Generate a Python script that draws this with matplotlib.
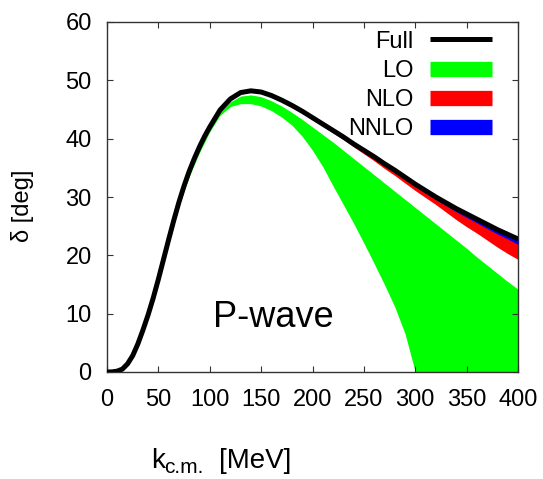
import numpy as np
import matplotlib
matplotlib.use('Agg')
import matplotlib.pyplot as plt
from matplotlib.lines import Line2D

plt.rcParams['font.family'] = ['Liberation Sans Narrow', 'Liberation Sans', 'DejaVu Sans']

# k_cm [MeV]
k = [0, 5, 10, 15, 20, 25, 30, 35, 40, 45, 50, 55, 60, 65, 70, 75, 80, 85, 90, 95, 100,
     110, 120, 130, 140, 150, 160, 170, 180, 190, 200, 210, 220, 230, 240, 250,
     260, 270, 280, 290, 300, 310, 320, 330, 340, 350, 360, 370, 380, 390, 400]

# phase shift [deg]
full = [0.0, 0.02, 0.15, 0.5, 1.4, 2.8, 4.8, 7.2, 9.8, 12.7, 15.9, 19.3, 22.7, 26.0, 29.1, 31.9, 34.4, 36.6, 38.6, 40.4, 42.0,
        44.9, 46.8, 47.9, 48.2, 48.0, 47.4, 46.6, 45.7, 44.7, 43.6, 42.5, 41.4, 40.3, 39.1, 38.0,
        36.9, 35.7, 34.6, 33.4, 32.2, 31.1, 30.0, 29.0, 28.0, 27.1, 26.2, 25.3, 24.4, 23.6, 22.8]

lo_hi = [0.0, 0.02, 0.15, 0.5, 1.4, 2.8, 4.8, 7.2, 9.8, 12.7, 15.9, 19.3, 22.7, 26.0, 29.1, 31.9, 34.4, 36.6, 38.6, 40.3, 41.8,
         44.5, 46.3, 47.3, 47.5, 47.2, 46.5, 45.6, 44.5, 43.3, 42.0, 40.7, 39.4, 38.0, 36.6, 35.2,
         33.8, 32.4, 31.0, 29.6, 28.2, 26.8, 25.4, 24.0, 22.6, 21.2, 19.7, 18.3, 16.9, 15.5, 14.2]

lo_lo = [0.0, 0.02, 0.15, 0.45, 1.3, 2.6, 4.6, 6.9, 9.5, 12.3, 15.5, 18.8, 22.2, 25.4, 28.4, 31.1, 33.5, 35.6, 37.6, 39.4, 41.2,
         44.0, 45.5, 46.0, 46.0, 45.6, 44.8, 43.7, 42.3, 40.4, 38.0, 35.2, 31.9, 28.7, 25.5, 22.1,
         18.6, 15.0, 11.2, 6.6, 0.0, 0.0, 0.0, 0.0, 0.0, 0.0, 0.0, 0.0, 0.0, 0.0, 0.0]

nlo_lo = [0.0, 0.02, 0.15, 0.5, 1.4, 2.8, 4.8, 7.2, 9.8, 12.7, 15.9, 19.3, 22.7, 26.0, 29.1, 31.9, 34.4, 36.6, 38.6, 40.4, 42.0,
          44.85, 46.7, 47.8, 48.1, 47.9, 47.25, 46.4, 45.5, 44.45, 43.3, 42.15, 41.0, 39.85, 38.6, 37.4,
          36.2, 34.9, 33.7, 32.4, 31.1, 29.9, 28.7, 27.4, 26.1, 24.9, 23.8, 22.6, 21.4, 20.3, 19.3]

nnlo_lo = [0.0, 0.02, 0.15, 0.5, 1.4, 2.8, 4.8, 7.2, 9.8, 12.7, 15.9, 19.3, 22.7, 26.0, 29.1, 31.9, 34.4, 36.6, 38.6, 40.4, 42.0,
           44.9, 46.8, 47.9, 48.2, 48.0, 47.4, 46.6, 45.7, 44.7, 43.55, 42.45, 41.35, 40.25, 39.05, 37.9,
           36.8, 35.55, 34.4, 33.2, 31.85, 30.7, 29.55, 28.5, 27.45, 26.5, 25.55, 24.6, 23.65, 22.8, 21.9]

fig = plt.figure(figsize=(5.43, 4.79), dpi=100)
ax = fig.add_axes([107/543, 1-372/479, 411/543, 350/479])

ax.fill_between(k, lo_lo, lo_hi, color='#00ff00', lw=0, zorder=1)
ax.fill_between(k, nlo_lo, full, color='#ff0000', lw=0, zorder=2)
ax.fill_between(k, nnlo_lo, full, color='#0000ff', lw=0, zorder=3)
ax.plot(k, full, color='black', lw=3.6, zorder=4, solid_capstyle='butt')

ax.set_xlim(0, 400)
ax.set_ylim(0, 60)
ax.set_xticks(np.arange(0, 401, 50))
ax.set_yticks(np.arange(0, 61, 10))
ax.tick_params(direction='in', length=4.5, width=0.8, top=True, right=True,
               labelsize=17, color='#333333')
ax.tick_params(axis='x', pad=12)
ax.tick_params(axis='y', pad=11)
for s in ax.spines.values():
    s.set_linewidth(1.0)
    s.set_color('#333333')

ax.text(0.257, 0.129, 'P-wave', transform=ax.transAxes, fontsize=26,
        ha='left', va='baseline')

fig.text(22/543, 1-206/479, 'δ [deg]', rotation=90, fontsize=17,
         ha='center', va='center')
# x label: k with subscript c.m.
fig.text(151/543, 1-468/479, 'k', fontsize=20, ha='left', va='baseline')
fig.text(164/543, 1-473/479, 'c.m.', fontsize=15, ha='left', va='baseline')
fig.text(219/543, 1-468/479, '[MeV]', fontsize=20, ha='left', va='baseline')

handles = [Line2D([], [], color='black', lw=3.6, solid_capstyle='butt'),
           Line2D([], [], color='#00ff00', lw=11, solid_capstyle='butt'),
           Line2D([], [], color='#ff0000', lw=11, solid_capstyle='butt'),
           Line2D([], [], color='#0000ff', lw=11, solid_capstyle='butt')]
labels = ['Full', 'LO', 'NLO', 'NNLO']
ax.legend(handles, labels, loc='upper right', bbox_to_anchor=(0.936, 0.975),
          frameon=False, markerfirst=False, fontsize=17, handlelength=2.6,
          handletextpad=0.7, labelspacing=0.3, borderaxespad=0, borderpad=0)

fig.savefig('out.png', dpi=100)
